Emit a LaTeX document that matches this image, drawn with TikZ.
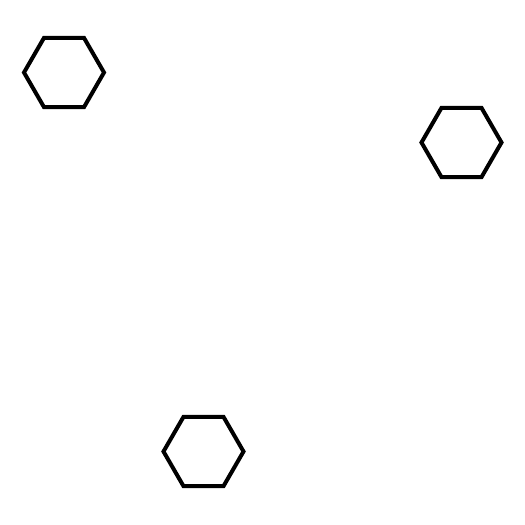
\documentclass[tikz,border=0pt]{standalone}
\usetikzlibrary{shapes.geometric}

\begin{document}
\begin{tikzpicture}[x=1pt,y=-1pt,
		hexa/.style={regular polygon, regular polygon sides=6, draw, line width=4pt, minimum size=80pt, inner sep=0pt}]
		\useasboundingbox (0,0) rectangle (525,525);
		\foreach \n/\x/\y in {1/64/72.5,2/461.5/142.5,3/203.5/451.5} {
			\node (h\n) at (\x,\y) [hexa] {};
		}
	\end{tikzpicture}
\end{document}
